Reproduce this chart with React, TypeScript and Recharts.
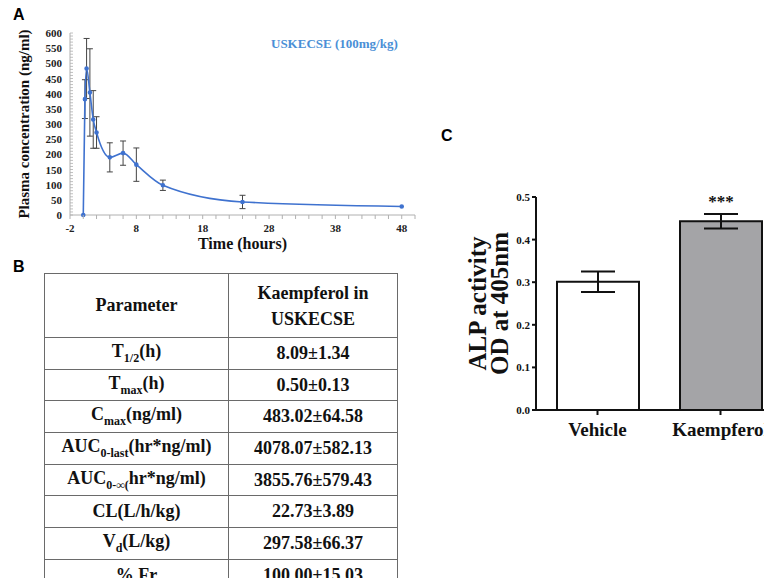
import {
  LineChart,
  Line,
  XAxis,
  YAxis,
  ErrorBar,
  BarChart,
  Bar,
  Cell,
  LabelList,
} from 'recharts'

// Panel A: plasma concentration over time
const TIMES = [0, 0.25, 0.5, 1, 1.5, 2, 4, 6, 8, 12, 24, 48]
const CONC = [0, 382, 483, 404, 315, 272, 190, 204, 166, 98, 43, 28]
const CONC_ERR = [0, 64, 99, 144, 95, 52, 48, 40, 55, 17, 22, 0]
const X_TICKS = Array.from({ length: 27 }, (_, i) => -2 + i * 2)
const X_LABELS = [-2, 8, 18, 28, 38, 48]
const Y_TICKS = Array.from({ length: 61 }, (_, i) => i * 10)

// Panel B: PK parameters
const PARAMS = [
  { name: 'T', sub: '1/2', unit: '(h)', value: '8.09±1.34' },
  { name: 'T', sub: 'max', unit: '(h)', value: '0.50±0.13' },
  { name: 'C', sub: 'max', unit: '(ng/ml)', value: '483.02±64.58' },
  { name: 'AUC', sub: '0-last', unit: '(hr*ng/ml)', value: '4078.07±582.13' },
  { name: 'AUC', sub: '0-∞(', unit: 'hr*ng/ml)', value: '3855.76±579.43' },
  { name: 'CL(L/h/kg)', sub: '', unit: '', value: '22.73±3.89' },
  { name: 'V', sub: 'd', unit: '(L/kg)', value: '297.58±66.37' },
  { name: '% Fr', sub: '', unit: '', value: '100.00±15.03' },
]

// Panel C: ALP activity
const GROUPS = ['Vehicle', 'Kaempferol']
const ALP = [0.301, 0.443]
const ALP_ERR = [0.024, 0.017]
const SIGNIF = ['', '***']
const FILLS = ['#ffffff', '#a4a4a7']

const pkData = TIMES.map((t, i) => ({ t, conc: CONC[i], err: CONC_ERR[i] }))
const alpData = GROUPS.map((g, i) => ({ name: g, alp: ALP[i], err: ALP_ERR[i], sig: SIGNIF[i] }))

const serif = 'Liberation Serif, Times New Roman, serif'
const sans = 'Liberation Sans, Arial, sans-serif'
const axisGray = '#b0b0b0'

const PkXTick = ({ x, y, payload }: any) => (
  <g>
    <line x1={x} y1={y} x2={x} y2={y + 4} stroke={axisGray} />
    {X_LABELS.includes(payload.value) && (
      <text x={x} y={y + 17} textAnchor="middle" style={{ fontFamily: serif, fontWeight: 'bold', fontSize: 11 }} fill="#222">
        {payload.value}
      </text>
    )}
  </g>
)

const PkYTick = ({ x, y, payload }: any) => (
  <g>
    <line x1={x} y1={y} x2={x + 3} y2={y} stroke={axisGray} strokeWidth={0.8} />
    {payload.value % 50 === 0 && (
      <text x={x - 8} y={y + 4} textAnchor="end" style={{ fontFamily: serif, fontWeight: 'bold', fontSize: 11 }} fill="#222">
        {payload.value}
      </text>
    )}
  </g>
)

const AlpYLabel = ({ viewBox }: any) => {
  const cy = viewBox.y + viewBox.height / 2
  return (
    <g style={{ fontFamily: serif, fontWeight: 'bold', fontSize: 25 }} fill="#111">
      <text x={56} y={cy} textAnchor="middle" transform={`rotate(-90, 56, ${cy})`}>ALP activity</text>
      <text x={78} y={cy} textAnchor="middle" transform={`rotate(-90, 78, ${cy})`}>OD at 405nm</text>
    </g>
  )
}

const cellStyle = {
  border: '1px solid #6a6a6a',
  textAlign: 'center' as const,
  padding: 0,
  fontFamily: serif,
  fontWeight: 'bold',
  fontSize: 18,
  color: '#111',
}

export default function App() {
  return (
    <div style={{ position: 'relative', width: 772, height: 586, margin: -8, overflow: 'hidden', background: '#fff' }}>
      {/* Panel A */}
      <div style={{ position: 'absolute', left: 13, top: 6, fontFamily: sans, fontWeight: 'bold', fontSize: 16 }}>A</div>
      <div style={{ position: 'absolute', left: 0, top: 0 }}>
        <LineChart width={430} height={256} data={pkData} margin={{ top: 33, right: 15, bottom: 0, left: 0 }}>
          <XAxis
            dataKey="t"
            type="number"
            domain={[-2, 50]}
            ticks={X_TICKS}
            interval={0}
            stroke={axisGray}
            tickSize={0}
            tickMargin={0}
            tick={<PkXTick />}
            height={41}
            label={{ value: 'Time (hours)', position: 'insideBottom', offset: 7, style: { fontFamily: serif, fontWeight: 'bold', fontSize: 16, fill: '#111' } }}
          />
          <YAxis
            type="number"
            domain={[0, 600]}
            ticks={Y_TICKS}
            interval={0}
            stroke={axisGray}
            tickSize={0}
            tickMargin={0}
            tick={<PkYTick />}
            width={70}
            label={{ value: 'Plasma concentration (ng/ml)', angle: -90, position: 'insideLeft', offset: 24, style: { fontFamily: serif, fontWeight: 'bold', fontSize: 15, fill: '#111', textAnchor: 'middle' } }}
          />
          <Line
            dataKey="conc"
            type="monotone"
            stroke="#3f72cf"
            strokeWidth={1.6}
            dot={{ r: 1.5, fill: '#3f72cf', stroke: '#3f72cf' }}
            isAnimationActive={false}
          >
            <ErrorBar dataKey="err" direction="y" width={3} stroke="#444" strokeWidth={1} />
          </Line>
        </LineChart>
      </div>
      <div style={{ position: 'absolute', left: 271, top: 36, fontFamily: serif, fontWeight: 'bold', fontSize: 13, color: '#4a8fd6' }}>
        USKECSE (100mg/kg)
      </div>

      {/* Panel B */}
      <div style={{ position: 'absolute', left: 13, top: 258, fontFamily: sans, fontWeight: 'bold', fontSize: 16 }}>B</div>
      <table style={{ position: 'absolute', left: 44, top: 273, width: 353, borderCollapse: 'collapse', tableLayout: 'fixed' }}>
        <colgroup>
          <col style={{ width: 184 }} />
          <col style={{ width: 169 }} />
        </colgroup>
        <tbody>
          <tr style={{ height: 64 }}>
            <td style={cellStyle}>Parameter</td>
            <td style={{ ...cellStyle, lineHeight: '26px' }}>Kaempferol in<br />USKECSE</td>
          </tr>
          {PARAMS.map((p) => (
            <tr key={p.value} style={{ height: 31.7 }}>
              <td style={cellStyle}>
                {p.name}
                {p.sub && <sub style={{ fontSize: 12 }}>{p.sub}</sub>}
                {p.unit}
              </td>
              <td style={cellStyle}>{p.value}</td>
            </tr>
          ))}
        </tbody>
      </table>

      {/* Panel C */}
      <div style={{ position: 'absolute', left: 441, top: 127, fontFamily: sans, fontWeight: 'bold', fontSize: 16 }}>C</div>
      <div style={{ position: 'absolute', left: 430, top: 120 }}>
        <BarChart width={352} height={335} data={alpData} margin={{ top: 77, right: 0, bottom: 0, left: 0 }}>
          <XAxis
            dataKey="name"
            stroke="#111"
            strokeWidth={2}
            tickSize={5}
            tickMargin={8}
            height={45}
            tick={{ style: { fontFamily: serif, fontWeight: 'bold', fontSize: 19 }, fill: '#111' }}
          />
          <YAxis
            domain={[0, 0.5]}
            ticks={[0, 0.1, 0.2, 0.3, 0.4, 0.5]}
            tickFormatter={(v: number) => v.toFixed(1)}
            stroke="#111"
            strokeWidth={2}
            tickSize={4}
            tickMargin={2}
            width={106}
            tick={{ style: { fontFamily: serif, fontWeight: 'bold', fontSize: 11 }, fill: '#111' }}
            label={<AlpYLabel />}
          />
          <Bar dataKey="alp" barSize={82} stroke="#111" strokeWidth={2} isAnimationActive={false}>
            {alpData.map((d, i) => (
              <Cell key={d.name} fill={FILLS[i]} />
            ))}
            <ErrorBar dataKey="err" direction="y" width={17} stroke="#111" strokeWidth={2} />
            <LabelList dataKey="sig" position="top" offset={14} style={{ fontFamily: serif, fontWeight: 'bold', fontSize: 17, fill: '#111' }} />
          </Bar>
        </BarChart>
      </div>
    </div>
  )
}
